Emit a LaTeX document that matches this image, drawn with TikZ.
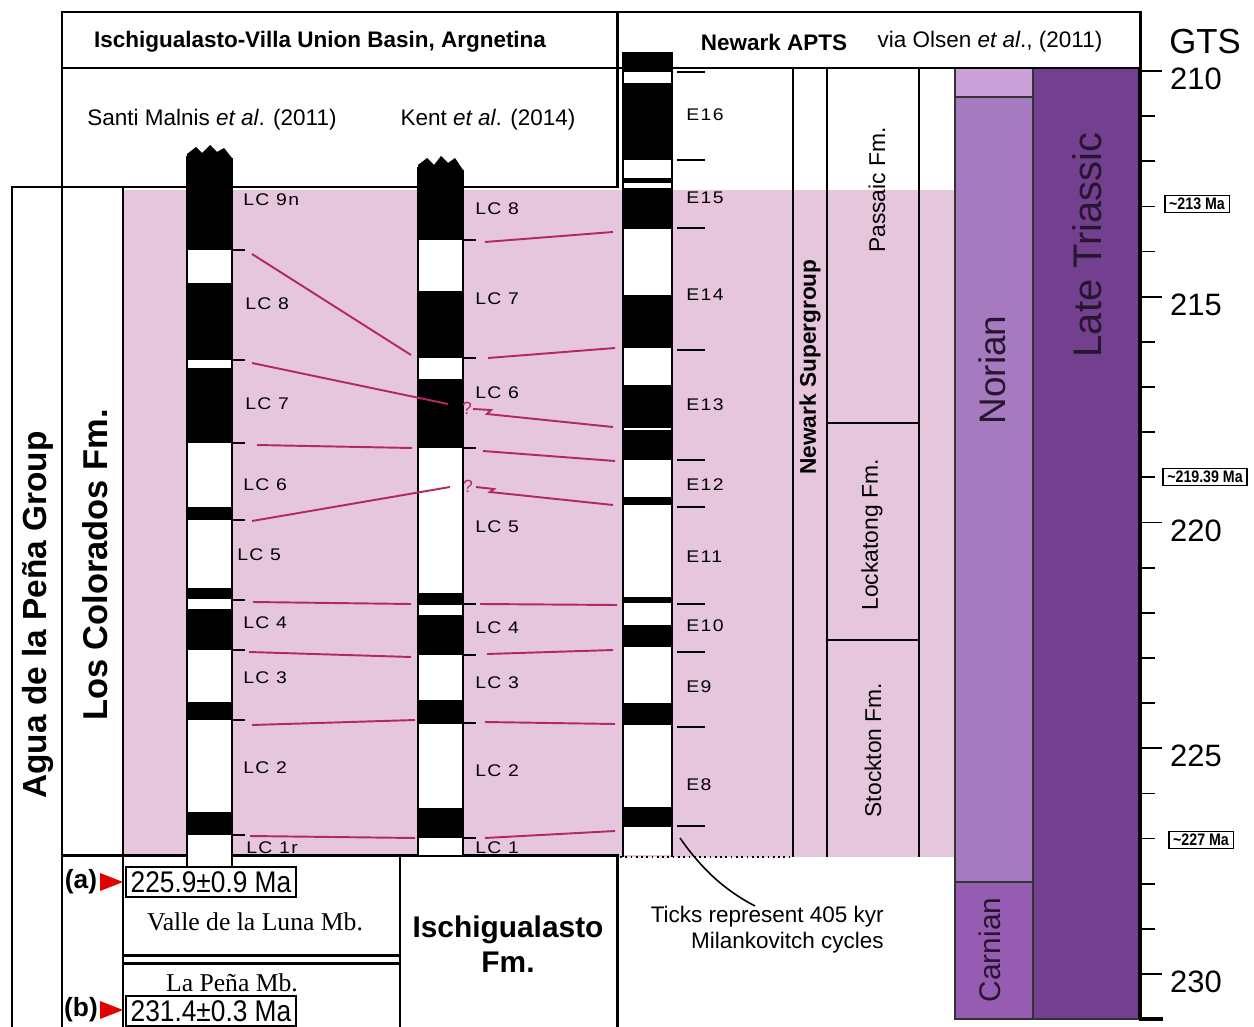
\documentclass[tikz,border=0pt]{standalone}
\usepackage{fontspec}
\setmainfont{Liberation Sans}
\newfontfamily\serifF{Liberation Serif}
\newfontfamily\lcF[LetterSpace=8,FakeStretch=1.15]{Liberation Sans}
\newfontfamily\narrowF[FakeStretch=0.85]{Liberation Sans}
\newfontfamily\valF[FakeStretch=0.88]{Liberation Sans}
\definecolor{pinkbg}{RGB}{230,198,221}
\definecolor{corrc}{RGB}{178,40,100}
\definecolor{norTop}{RGB}{201,160,216}
\definecolor{norian}{RGB}{166,122,190}
\definecolor{carnian}{RGB}{150,92,178}
\definecolor{lateTr}{RGB}{114,64,142}
\definecolor{darktxt}{RGB}{40,22,48}
\begin{document}
\begin{tikzpicture}[x=0.02cm,y=-0.02cm,
  frame/.style={line width=1.7pt, line cap=rect},
  thinln/.style={line width=0.9pt},
  colside/.style={line width=0.8pt},
  tickln/.style={line width=1pt},
  corr/.style={draw=corrc, line width=1.1pt},
  gtsline/.style={line width=0.7pt, draw=black!80},
  gtstick/.style={line width=1pt},
  lc/.style={font=\lcF\fontsize{9.6}{10}\selectfont, anchor=west, inner sep=0pt},
  hdr/.style={font=\fontsize{12.8}{14}\selectfont, inner sep=0pt},
  hdrB/.style={font=\bfseries\fontsize{12.8}{14}\selectfont, inner sep=0pt},
  fmtxt/.style={rotate=90, font=\fontsize{13}{15}\selectfont, inner sep=0pt},
  datebox/.style={draw, line width=0.8pt, font=\narrowF\bfseries\fontsize{9.5}{10}\selectfont, inner xsep=2.5pt, inner ysep=1.5pt},
  valbox/.style={draw, line width=0.8pt, font=\valF\fontsize{17}{18}\selectfont, minimum width=3.4cm, minimum height=0.6cm, inner sep=0pt},
  mbtxt/.style={font=\serifF\fontsize{14.6}{16}\selectfont, inner sep=0pt},
  abtxt/.style={font=\bfseries\fontsize{15}{17}\selectfont, inner sep=0pt},
  gtsnum/.style={font=\fontsize{17.6}{19}\selectfont, inner sep=0pt},
  corrq/.style={text=corrc, font=\fontsize{10}{11}\selectfont, inner sep=0pt}
]
\useasboundingbox (0,0) rectangle (1254,1027);
\fill[white] (0,0) rectangle (1254,1027);

% pink background
\fill[pinkbg] (123,190) rectangle (955,857);

% GTS columns
\fill[norTop] (955,68) rectangle (1033,97);
\fill[norian] (955,97) rectangle (1033,882);
\fill[carnian] (955,882) rectangle (1033,1019);
\fill[lateTr] (1033,68) rectangle (1140,1019);
\draw[gtsline] (955,68) rectangle (1140,1019);
\draw[gtsline] (1033,68) -- (1033,1019);
\draw[gtsline] (955,97) -- (1033,97);
\draw[gtsline] (955,882) -- (1033,882);

% Newark lithostratigraphy lines
\draw[thinln] (793,68) -- (793,857);
\draw[thinln] (827,68) -- (827,857);
\draw[thinln] (919,68) -- (919,857);
\draw[thinln] (827,423) -- (919,423);
\draw[thinln] (827,640) -- (919,640);
\draw[line width=1pt, dotted] (620,857) -- (793,857);

% frames
\draw[frame] (62,12) rectangle (1140,68);
\draw[frame] (617,12) -- (617,187);
\draw[frame] (62,68) -- (62,187);
\draw[frame] (12,187) -- (617,187);
\draw[frame] (12,187) -- (12,1027);
\draw[frame] (62,187) -- (62,1027);
\draw[frame] (123,187) -- (123,1027);
\draw[frame] (62,855) -- (617,855);
\draw[frame] (400,855) -- (400,1027);
\draw[frame] (617,855) -- (617,1027);
\draw[frame] (123,955) -- (400,955);
\draw[frame] (123,963) -- (400,963);

% Santi Malnis column
\fill[white] (187,160) rectangle (232,867);
\fill[black] (187,250) -- (187,154) -- (196,147) -- (202,153) -- (210,145) -- (217,152) -- (224,148) -- (232,158) -- (232,250) -- cycle;
\foreach \a/\b in {283/360,368/443,507/520,588/599,609/650,702/720,812/835}
  \fill[black] (187,\a) rectangle (232,\b);
\draw[colside] (187,156) -- (187,867) (232,158) -- (232,867);
\foreach \y in {250,360,443,520,600,650,720,835}
  \draw[tickln] (232,\y) -- (245,\y);

% Kent column
\fill[white] (418,170) rectangle (463,855);
\fill[black] (418,240) -- (418,165) -- (427,158) -- (434,165) -- (441,156) -- (448,163) -- (455,158) -- (463,170) -- (463,240) -- cycle;
\foreach \a/\b in {291/358,379/448,593/605,615/655,700/724,808/838}
  \fill[black] (418,\a) rectangle (463,\b);
\draw[colside] (418,167) -- (418,855) (463,170) -- (463,855);
\foreach \y in {240,358,448,604,655,723,838}
  \draw[tickln] (463,\y) -- (476,\y);

% Newark column
\fill[white] (623,52) rectangle (672,855);
\foreach \a/\b in {52/72,83/160,178/183,188/229,295/348,385/428,430/460,497/505,597/603,625/647,703/725,807/827}
  \fill[black] (623,\a) rectangle (672,\b);
\draw[colside] (623,52) -- (623,857) (672,52) -- (672,857);
\foreach \y in {72,160,228,350,460,507,604,652,727,826}
  \draw[tickln] (677,\y) -- (705,\y);

% correlation lines
\draw[corr] (252,254) -- (411,355);
\draw[corr] (252,363) -- (448,404);
\draw[corr] (257,445) -- (412,448);
\draw[corr] (252,521) -- (450,487);
\draw[corr] (253,602) -- (411,604);
\draw[corr] (249,652) -- (411,657);
\draw[corr] (252,725) -- (415,720);
\draw[corr] (250,836) -- (415,838);
\draw[corr] (485,242) -- (613,232);
\draw[corr] (488,358) -- (615,348);
\draw[corr] (473,409) -- (491,410) -- (487,414) -- (613,427);
\draw[corr] (483,451) -- (615,461);
\draw[corr] (476,487) -- (494,489) -- (490,492) -- (613,505);
\draw[corr] (480,604) -- (617,605);
\draw[corr] (487,654) -- (613,650);
\draw[corr] (485,722) -- (615,724);
\draw[corr] (485,838) -- (615,831);
\node[corrq] (q1) at (467,408) {?};
\node[corrq] (q2) at (468,486) {?};

% LC labels Santi
\node[lc] (s9) at (243,200) {LC 9n};
\node[lc] (s8) at (245,304) {LC 8};
\node[lc] (s7) at (245,404) {LC 7};
\node[lc] (s6) at (243,485) {LC 6};
\node[lc] (s5) at (237,555) {LC 5};
\node[lc] (s4) at (243,623) {LC 4};
\node[lc] (s3) at (243,678) {LC 3};
\node[lc] (s2) at (243,768) {LC 2};
\node[lc] (s1) at (246,848) {LC 1r};
% LC labels Kent
\node[lc] (k8) at (475,209) {LC 8};
\node[lc] (k7) at (475,299) {LC 7};
\node[lc] (k6) at (475,393) {LC 6};
\node[lc] (k5) at (475,527) {LC 5};
\node[lc] (k4) at (475,628) {LC 4};
\node[lc] (k3) at (475,683) {LC 3};
\node[lc] (k2) at (475,771) {LC 2};
\node[lc] (k1) at (475,848) {LC 1};
% E labels
\node[lc] (e16) at (686,115) {E16};
\node[lc] (e15) at (686,198) {E15};
\node[lc] (e14) at (686,295) {E14};
\node[lc] (e13) at (686,405) {E13};
\node[lc] (e12) at (686,485) {E12};
\node[lc] (e11) at (686,557) {E11};
\node[lc] (e10) at (686,626) {E10};
\node[lc] (e9) at (686,687) {E9};
\node[lc] (e8) at (686,785) {E8};

% headers
\node[hdrB] (basin) at (320,42) {Ischigualasto-Villa Union Basin, Argnetina};
\node[hdr] (santi) at (212,120) {Santi Malnis \textit{et al}. (2011)};
\node[hdr] (kent) at (488,120) {Kent \textit{et al}. (2014)};
\node[hdrB] (apts) at (774,42) {Newark APTS};
\node[hdr] (olsen) at (990,42) {via Olsen \textit{et al}., (2011)};
\node[font=\fontsize{19.8}{22}\selectfont, inner sep=0pt] (gts) at (1205,42) {GTS};

% vertical texts
\node[rotate=90, font=\bfseries\fontsize{19}{21}\selectfont, inner sep=0pt] (agua) at (38,615) {Agua de la Peña Group};
\node[rotate=90, font=\bfseries\fontsize{19.6}{21}\selectfont, inner sep=0pt] (colorados) at (95,565) {Los Colorados Fm.};
\node[rotate=90, font=\bfseries\fontsize{12.9}{14}\selectfont, inner sep=0pt] (supergroup) at (810,367) {Newark Supergroup};
\node[fmtxt] (passaic) at (877,190) {Passaic Fm.};
\node[fmtxt] (lockatong) at (872,535) {Lockatong Fm.};
\node[fmtxt] (stockton) at (873,750) {Stockton Fm.};
\node[rotate=90, text=darktxt, font=\fontsize{21}{23}\selectfont, inner sep=0pt] (norianT) at (992,370) {Norian};
\node[rotate=90, text=darktxt, font=\fontsize{22.7}{24}\selectfont, inner sep=0pt] (lateT) at (1087,245) {Late Triassic};
\node[rotate=90, text=darktxt, font=\fontsize{17}{19}\selectfont, inner sep=0pt] (carnianT) at (990,950) {Carnian};

% GTS axis
\foreach \t in {0,...,20}
  \draw[gtstick] (1140,{71+45.15*\t}) -- (1155,{71+45.15*\t});
\foreach \t/\l in {0/210,5/215,10/220,15/225,20/230}{
  \draw[gtstick] (1140,{71+45.15*\t}) -- (1162,{71+45.15*\t});
  \node[gtsnum] (g\l) at (1196,{79+45.15*\t}) {\l};
}
\draw[line width=1.8pt] (1140,68) -- (1140,1019);
\draw[line width=2.6pt] (1139,1019) -- (1163,1019);
\node[datebox] (d213) at (1197,204) {\textasciitilde213 Ma};
\node[datebox] (d219) at (1205,477) {\textasciitilde219.39 Ma};
\node[datebox] (d227) at (1201,840) {\textasciitilde227 Ma};

% bottom boxes
\node[abtxt] (alab) at (81,882) {(a)};
\fill[red!90!black] (100,873) -- (123,882) -- (100,891) -- cycle;
\node[valbox] (agea) at (211,882) {225.9±0.9 Ma};
\node[mbtxt] (valle) at (255,922) {Valle de la Luna Mb.};
\node[mbtxt] (lapena) at (232,983) {La Peña Mb.};
\node[abtxt] (blab) at (81,1010) {(b)};
\fill[red!90!black] (100,1001) -- (123,1010) -- (100,1019) -- cycle;
\node[valbox] (ageb) at (211,1011) {231.4±0.3 Ma};
\node[align=center, font=\bfseries\fontsize{17}{19.8}\selectfont, inner sep=0pt] (ischi) at (508,944) {Ischigualasto\\Fm.};

% note
\node[anchor=east, align=right, font=\fontsize{12.8}{14.7}\selectfont, inner sep=0pt] (note) at (884,930) {Ticks represent 405 kyr\\Milankovitch cycles};
\coordinate (lead1) at (680,838);
\coordinate (lead2) at (755,906);
\draw[line width=0.9pt] (lead1) .. controls (705,874) and (730,893) .. (lead2);
\end{tikzpicture}
\end{document}
